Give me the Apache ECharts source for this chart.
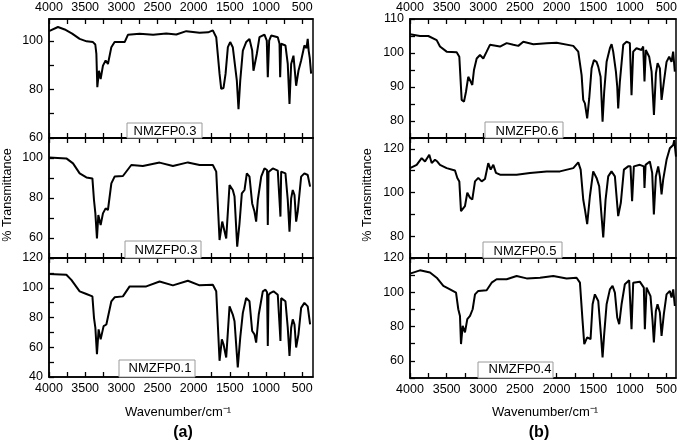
<!DOCTYPE html>
<html>
<head>
<meta charset="utf-8">
<script src="https://cdn.jsdelivr.net/npm/echarts@6/dist/echarts.min.js"></script>
<style>
html,body{margin:0;padding:0;background:#fff;}
#chart{width:685px;height:442px;}
</style>
</head>
<body>
<div id="chart"></div>
<script>
// ---- tick labels ----
const xLabelValues = [4000, 3500, 3000, 2500, 2000, 1500, 1000, 500];
const xTickValues = [4000, 3750, 3500, 3250, 3000, 2750, 2500, 2250, 2000, 1750, 1500, 1250, 1000, 750, 500];

const sampleNames = ["NMZFP0.3", "NMZFP0.3", "NMZFP0.1", "NMZFP0.6", "NMZFP0.5", "NMZFP0.4"];
const panelTags = ["(a)", "(b)"];

// ---- spectra: [wavenumber, % transmittance] ----
const spectrumA1 = [[4000,104],[3876,105.7],[3783,104.7],[3680,103],[3576,100.8],[3480,99.8],[3392,99.5],[3360,98.5],[3345,94.6],[3332,80.9],[3309,87.7],[3286,84.3],[3254,89.8],[3217,91.9],[3185,90.5],[3138,97.4],[3093,99.5],[2954,99.5],[2909,102.5],[2747,102.9],[2560,102.5],[2379,103],[2240,102.6],[2102,104],[1918,103.3],[1800,103.5],[1735,104.3],[1688,101.5],[1642,86.4],[1619,80.2],[1587,80.6],[1559,86.4],[1527,97.4],[1495,99.5],[1459,97.4],[1435,96.7],[1403,83.6],[1380,71.9],[1356,83.6],[1320,96],[1274,99.5],[1228,100.8],[1191,96],[1173,87.7],[1149,88.4],[1127,94.6],[1090,101.5],[1021,102.6],[989,100.1],[975,85],[956,100.1],[928,102.2],[837,101.5],[813,98.8],[804,85],[790,98.8],[731,98.1],[699,90.5],[675,74],[652,90.5],[620,93.9],[583,81.5],[551,87.7],[514,91.9],[469,98.1],[440,97],[423,100.8],[410,96],[395,93],[376,86.5]];

const spectrumA2 = [[4000,100.3],[3760,99.8],[3668,97.3],[3576,92.3],[3483,90.3],[3400,89.8],[3378,79],[3359,72.3],[3337,59.8],[3318,71.5],[3286,66.5],[3254,72.3],[3217,74.8],[3185,74],[3138,87.3],[3093,90.7],[2978,91],[2862,96.5],[2702,96],[2471,97.7],[2287,96],[2080,97.8],[1918,96.5],[1735,96.5],[1688,93.2],[1642,59],[1605,68.2],[1587,67.3],[1550,59.8],[1504,86.5],[1459,84],[1435,80.7],[1398,55.7],[1366,67.3],[1334,82.3],[1297,84],[1265,92.3],[1228,90.7],[1191,77.3],[1159,73.2],[1136,68.2],[1113,79],[1066,90.7],[1021,94.8],[985,94],[975,66.5],[965,93],[942,93.2],[906,94.8],[837,93.7],[815,93.5],[800,70.7],[790,93.2],[777,93.2],[731,92.3],[699,79],[675,63.2],[652,79.8],[630,84],[606,81.5],[583,68.2],[561,73.2],[514,90.7],[469,92.3],[423,91.5],[390,85.7]];

const spectrumA3 = [[4000,109.3],[3760,108.7],[3691,105.3],[3576,97.6],[3483,95.8],[3400,94.2],[3378,79.8],[3359,73.1],[3337,55.3],[3314,72],[3286,65.3],[3245,74.2],[3207,75.3],[3138,90.9],[3093,93.6],[2978,94.2],[2885,100.9],[2655,100.9],[2471,104.2],[2287,101.6],[2080,104.7],[1918,101.6],[1735,102],[1688,97.6],[1642,50.9],[1610,65.3],[1587,62],[1550,53.1],[1504,87.5],[1459,82],[1435,77.5],[1390,46.5],[1356,66.5],[1320,83.1],[1274,93.1],[1228,90.9],[1191,70.9],[1159,68.7],[1136,63.1],[1100,82],[1044,97.6],[1007,98.7],[985,97],[975,60.9],[965,95],[942,96.4],[896,97.6],[837,95.3],[815,94],[800,64.2],[790,93],[777,94.2],[731,90.9],[699,73.1],[675,54.2],[652,73.1],[630,78.7],[606,75.3],[583,59.8],[551,68.7],[514,86.5],[469,89.8],[423,87.5],[390,75.3]];

const spectrumB1 = [[4000,105.5],[3864,105],[3750,105],[3636,103.8],[3591,101.9],[3500,100.4],[3363,100.2],[3327,98.9],[3295,86.2],[3263,85.7],[3236,88.6],[3205,93],[3172,91.6],[3150,90.6],[3127,95],[3090,98.4],[3045,99.4],[3000,98.4],[2954,100.4],[2909,102.4],[2772,101.9],[2681,102.9],[2590,102.4],[2522,102.1],[2454,103.3],[2317,102.6],[2135,102.9],[1999,103],[1772,102.1],[1704,100.4],[1658,93.5],[1636,86.2],[1613,85.2],[1582,80.8],[1554,86.7],[1522,95.5],[1490,97.9],[1454,97.4],[1431,96],[1399,93],[1372,79.8],[1350,88.6],[1317,97.4],[1272,101.4],[1249,102.6],[1227,100.4],[1190,94.5],[1172,90.1],[1159,83.7],[1136,91.6],[1090,102.4],[1045,103.3],[1000,102.9],[977,87.6],[954,100.4],[909,101.4],[840,100.9],[818,101.9],[800,91.6],[782,100.9],[736,98.9],[703,94.5],[671,81.8],[644,94],[621,97],[590,95.5],[567,86.2],[535,91.6],[499,97.4],[463,98.9],[431,97.4],[409,100.4],[386,94.5]];

const spectrumB2 = [[4000,111.2],[3909,112.7],[3841,115.8],[3795,114.2],[3737,117.3],[3704,113.5],[3659,115],[3627,114.2],[3591,112.7],[3500,111.2],[3386,110.1],[3354,106.7],[3327,105.1],[3304,91.5],[3281,90.8],[3250,93.8],[3218,99.9],[3181,97.6],[3150,96.8],[3113,105.1],[3068,106.7],[3022,105.1],[2977,106.2],[2932,113.5],[2899,110.5],[2863,112.7],[2827,109],[2772,108.2],[2545,108.2],[2363,109],[2135,109.7],[1954,109.7],[1772,111.2],[1704,113.8],[1671,110.5],[1636,96.8],[1613,92.3],[1582,85.5],[1545,98.3],[1500,109.7],[1454,106.7],[1418,102.9],[1386,89.2],[1363,79.4],[1331,96.8],[1295,107.4],[1250,109.7],[1204,107.4],[1159,89.2],[1123,95.3],[1081,110.5],[1023,112],[991,112],[969,96],[945,112],[864,112.7],[809,112],[800,102.1],[785,112.7],[727,114.2],[695,109],[672,90],[645,107.4],[613,112],[590,107.4],[567,99.1],[545,105.9],[499,115],[454,120.3],[408,121.8],[394,124],[370,116.5]];

const spectrumB3 = [[4000,110.9],[3864,112.8],[3727,111.5],[3636,108.5],[3545,103.7],[3454,101.7],[3372,99.8],[3341,90.1],[3318,86.2],[3304,69.8],[3281,80.4],[3250,76.6],[3218,84.3],[3181,86.2],[3145,90.1],[3113,98.8],[3068,100.8],[2954,101.2],[2886,105.6],[2818,107.6],[2681,107.6],[2545,109.5],[2408,108.1],[2226,108.5],[2045,109.5],[1863,108.1],[1727,108.5],[1681,105.6],[1645,83.3],[1622,69.8],[1582,73.7],[1536,72.7],[1508,93],[1477,98.8],[1431,94.9],[1395,75.6],[1372,62],[1350,75.6],[1317,93],[1272,101.7],[1236,103.7],[1204,99.8],[1172,85.3],[1145,81.4],[1113,93],[1068,104.7],[1009,107],[977,78.5],[954,105.6],[864,106.2],[809,102.7],[795,78.5],[772,102.7],[718,97.8],[690,83.3],[672,70.8],[645,89.1],[622,93],[590,88.2],[567,74.6],[536,87.2],[499,98.8],[454,100.8],[431,96.9],[408,101.7],[386,92]];

// ---- y-axis ranges & labels per panel ----
const yRanges = [[60,109],[50,110],[40,120],[75,110],[70,125],[50,120]];
const yLabelValues = [[60,80,100],[60,80,100],[40,60,80,100,120],[80,90,100,110],[80,100,120],[60,80,100,120]];
const yTickValues = [[60,70,80,90,100],[50,60,70,80,90,100],[40,50,60,70,80,90,100,110,120],[75,80,85,90,95,100,105,110],[70,80,90,100,110,120],[50,60,70,80,90,100,110,120]];
const xMins = [350,350,350,370,370,370];

const spectra = [spectrumA1, spectrumA2, spectrumA3, spectrumB1, spectrumB2, spectrumB3];

// ---- layout ----
const grids = [
  {left:49, top:19, width:264, height:119},
  {left:49, top:138, width:264, height:120},
  {left:49, top:258, width:264, height:119},
  {left:410, top:19, width:266, height:119},
  {left:410, top:138, width:266, height:120},
  {left:410, top:258, width:266, height:120}
];
const FONT = "'Liberation Sans', Arial, sans-serif";
const plain = v => String(Math.round(v));

const xAxes = [];
const yAxes = [];
const series = [];
grids.forEach((g, i) => {
  const showBottomLabels = (i === 2 || i === 5);
  xAxes.push({
    type:'value', gridIndex:i, inverse:true, min:xMins[i], max:4000, position:'bottom',
    axisLine:{show:true, onZero:false, lineStyle:{color:'#000', width:1.5}},
    axisTick:{show:true, inside:true, length:5, customValues:xTickValues, lineStyle:{color:'#000', width:1.3}},
    axisLabel:{show:showBottomLabels, customValues:xLabelValues, formatter:plain, color:'#000', fontSize:12.5, fontFamily:FONT, margin:5},
    splitLine:{show:false}, z:5
  });
  yAxes.push({
    type:'value', gridIndex:i, min:yRanges[i][0], max:yRanges[i][1],
    axisLine:{show:true, onZero:false, lineStyle:{color:'#000', width:1.5}},
    axisTick:{show:true, inside:true, length:5, customValues:yTickValues[i], lineStyle:{color:'#000', width:1.3}},
    axisLabel:{show:true, customValues:yLabelValues[i], formatter:plain, color:'#000', fontSize:12.5, fontFamily:FONT, margin:6},
    splitLine:{show:false}, z:5
  });
  series.push({
    type:'line', xAxisIndex:i, yAxisIndex:i, data:spectra[i],
    showSymbol:false, symbol:'none', smooth:false, silent:true,
    lineStyle:{color:'#000', width:2}, z:3
  });
});
grids.forEach((g, i) => {
  const showTopLabels = (i === 0 || i === 3);
  xAxes.push({
    type:'value', gridIndex:i, inverse:true, min:xMins[i], max:4000, position:'top',
    axisLine:{show:true, onZero:false, lineStyle:{color:'#000', width:1.5}},
    axisTick:{show:true, inside:true, length:5, customValues:xTickValues, lineStyle:{color:'#000', width:1.3}},
    axisLabel:{show:showTopLabels, customValues:xLabelValues, formatter:plain, color:'#000', fontSize:12.5, fontFamily:FONT, margin:5},
    splitLine:{show:false}, z:5
  });
});

const gridOpts = grids.map(g => Object.assign({show:true, borderColor:'#000', borderWidth:1.5, backgroundColor:'transparent'}, g));

// legend-like boxes
const boxes = [
  {x:127, y:123, w:75, h:15, tx:165, ty:131},
  {x:125, y:241, w:76, h:17, tx:166, ty:250},
  {x:119, y:360, w:76, h:17, tx:160, ty:368},
  {x:485, y:122, w:78, h:16, tx:527, ty:131},
  {x:483, y:242, w:79, h:16, tx:525, ty:251},
  {x:478, y:362, w:75, h:16, tx:520, ty:369}
];
const graphics = [];
boxes.forEach((b, i) => {
  graphics.push({type:'rect', shape:{x:b.x, y:b.y, width:b.w, height:b.h}, style:{fill:'#fff', stroke:'#9a9a9a', lineWidth:1}, z:10});
  graphics.push({type:'text', x:b.tx, y:b.ty, style:{text:sampleNames[i], fill:'#000', font:'13px ' + FONT, textAlign:'center', textVerticalAlign:'middle'}, z:11});
});
// axis titles
[[8,195],[368,195]].forEach(p => {
  graphics.push({type:'text', x:p[0], y:p[1], rotation:Math.PI/2, style:{text:'% Transmittance', fill:'#000', font:'12.5px ' + FONT, textAlign:'center', textVerticalAlign:'middle'}, z:11});
});
[[178,412],[545,412]].forEach(p => {
  graphics.push({type:'text', x:p[0], y:p[1], style:{text:'Wavenumber/cm\u207B\u00B9', fill:'#000', font:'13px ' + FONT, textAlign:'center', textVerticalAlign:'middle'}, z:11});
});
[[183,433],[539,433]].forEach((p, i) => {
  graphics.push({type:'text', x:p[0], y:p[1], style:{text:panelTags[i], fill:'#000', font:'bold 16px ' + FONT, textAlign:'center', textVerticalAlign:'middle'}, z:11});
});

const chart = echarts.init(document.getElementById('chart'), null, {renderer:'canvas'});
chart.setOption({
  animation:false,
  backgroundColor:'#fff',
  grid:gridOpts,
  xAxis:xAxes,
  yAxis:yAxes,
  series:series,
  graphic:graphics
});
</script>
</body>
</html>
